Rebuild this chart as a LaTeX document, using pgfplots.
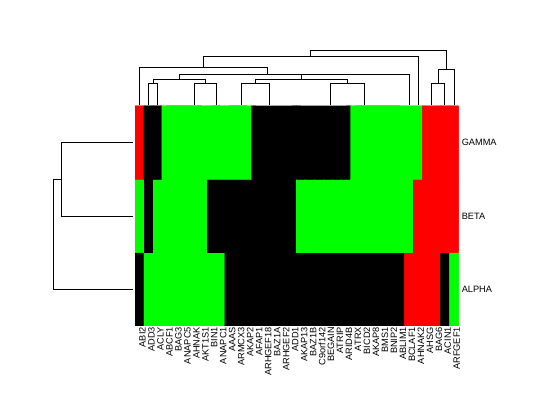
\documentclass[border=0pt]{standalone}
\usepackage{pgfplots}
\usepackage{pgfplotstable}
\pgfplotsset{compat=1.18}
\usepackage{fontspec}
\setmainfont{Liberation Sans}
\pgfplotstableread[row sep=\\]{
x y c\\
0 0 0\\ 1 0 -1\\ 2 0 -1\\ 3 0 -1\\ 4 0 -1\\ 5 0 -1\\ 6 0 -1\\ 7 0 -1\\ 8 0 -1\\ 9 0 -1\\ 10 0 0\\ 11 0 0\\
12 0 0\\ 13 0 0\\ 14 0 0\\ 15 0 0\\ 16 0 0\\ 17 0 0\\ 18 0 0\\ 19 0 0\\ 20 0 0\\ 21 0 0\\ 22 0 0\\ 23 0 0\\
24 0 0\\ 25 0 0\\ 26 0 0\\ 27 0 0\\ 28 0 0\\ 29 0 0\\ 30 0 1\\ 31 0 1\\ 32 0 1\\ 33 0 1\\ 34 0 0\\ 35 0 -1\\
0 1 -1\\ 1 1 0\\ 2 1 -1\\ 3 1 -1\\ 4 1 -1\\ 5 1 -1\\ 6 1 -1\\ 7 1 -1\\ 8 1 0\\ 9 1 0\\ 10 1 0\\ 11 1 0\\
12 1 0\\ 13 1 0\\ 14 1 0\\ 15 1 0\\ 16 1 0\\ 17 1 0\\ 18 1 -1\\ 19 1 -1\\ 20 1 -1\\ 21 1 -1\\ 22 1 -1\\ 23 1 -1\\
24 1 -1\\ 25 1 -1\\ 26 1 -1\\ 27 1 -1\\ 28 1 -1\\ 29 1 -1\\ 30 1 -1\\ 31 1 1\\ 32 1 1\\ 33 1 1\\ 34 1 1\\ 35 1 1\\
0 2 1\\ 1 2 0\\ 2 2 0\\ 3 2 -1\\ 4 2 -1\\ 5 2 -1\\ 6 2 -1\\ 7 2 -1\\ 8 2 -1\\ 9 2 -1\\ 10 2 -1\\ 11 2 -1\\
12 2 -1\\ 13 2 0\\ 14 2 0\\ 15 2 0\\ 16 2 0\\ 17 2 0\\ 18 2 0\\ 19 2 0\\ 20 2 0\\ 21 2 0\\ 22 2 0\\ 23 2 0\\
24 2 -1\\ 25 2 -1\\ 26 2 -1\\ 27 2 -1\\ 28 2 -1\\ 29 2 -1\\ 30 2 -1\\ 31 2 -1\\ 32 2 1\\ 33 2 1\\ 34 2 1\\ 35 2 1\\
}\heat
\begin{document}
\begin{tikzpicture}
\useasboundingbox (0,0) rectangle (560pt,420pt);
% heatmap
\begin{axis}[
  at={(135pt,94pt)}, anchor=south west,
  scale only axis, width=323.3pt, height=220pt,
  xmin=-0.5, xmax=35.5, ymin=-0.5, ymax=2.5,
  y dir=normal,
  enlargelimits=false,
  axis line style={draw=none}, tick style={draw=none},
  colormap={rgk}{rgb255=(0,255,0) rgb255=(0,0,0) rgb255=(255,0,0)},
  point meta min=-1, point meta max=1,
  xtick={0,...,35},
  xticklabels={ABI2,ADD3,ACLY,ABCF1,BAG3,ANAPC5,AHNAK,AKT1S1,BIN1,ANAPC1,AAAS,ARMCX3,AKAP2,AFAP1,ARHGEF18,BAZ1A,ARHGEF2,ADD1,AKAP13,BAZ1B,C9orf142,BEGAIN,ATRIP,ARID4B,ATRX,BICD2,AKAP8,BMS1,BNIP2,ABLIM1,BCLAF1,AHNAK2,AHSG,BAG6,ACIN1,ARFGEF1},
  xticklabel style={rotate=90, anchor=east, font=\fontsize{9.2}{10}\selectfont, inner sep=1pt, yshift=-3pt},
  ytick={0,1,2}, yticklabels={ALPHA,BETA,GAMMA},
  yticklabel pos=right,
  yticklabel style={font=\fontsize{9.2}{10}\selectfont},
]
\addplot[matrix plot*, mesh/cols=36, mesh/rows=3, point meta=explicit] table[meta=c] {\heat};
\addplot[matrix plot*, mesh/cols=36, mesh/rows=3, point meta=explicit] table[meta=c] {\heat};
\addplot[matrix plot*, mesh/cols=36, mesh/rows=3, point meta=explicit] table[meta=c] {\heat};
\end{axis}
% top dendrogram
\begin{axis}[
  at={(135pt,315pt)}, anchor=south west,
  scale only axis, width=323.3pt, height=55pt,
  xmin=-0.5, xmax=35.5, ymin=0, ymax=55,
  hide axis, clip=false,
  cycle list={{black, solid, no marks, line width=0.8pt}},
]
% zero-height links
\addplot[gray!70, no marks, line width=0.8pt] coordinates {(3,0) (7,0)};
\addplot[gray!70, no marks, line width=0.8pt] coordinates {(8,0) (9,0)};
\addplot[gray!70, no marks, line width=0.8pt] coordinates {(10,0) (12,0)};
\addplot[gray!70, no marks, line width=0.8pt] coordinates {(13,0) (17,0)};
\addplot[gray!70, no marks, line width=0.8pt] coordinates {(18,0) (23,0)};
\addplot[gray!70, no marks, line width=0.8pt] coordinates {(24,0) (29,0)};
\addplot[gray!70, no marks, line width=0.8pt] coordinates {(32,0) (33,0)};
% links
\addplot coordinates {(1,0) (1,21.7) (2,21.7) (2,0)};
\addplot coordinates {(6.06,0) (6.06,21.7) (8.5,21.7) (8.5,0)};
\addplot coordinates {(11.38,0) (11.38,21.7) (14.46,21.7) (14.46,0)};
\addplot coordinates {(21.29,0) (21.29,21.7) (25.0,21.7) (25.0,0)};
\addplot coordinates {(32.5,0) (32.5,21.7) (34,21.7) (34,0)};
\addplot coordinates {(1.5,21.7) (1.5,25.7) (7.28,25.7) (7.28,21.7)};
\addplot coordinates {(12.92,21.7) (12.92,25.7) (23.15,25.7) (23.15,21.7)};
\addplot coordinates {(18.03,25.7) (18.03,30.3) (30,30.3) (30,0)};
\addplot coordinates {(4.39,25.7) (4.39,31) (24.02,31) (24.02,30.3)};
\addplot coordinates {(0,0) (0,37.7) (14.2,37.7) (14.2,31)};
\addplot coordinates {(7.1,37.7) (7.1,49) (31,49) (31,0)};
\addplot coordinates {(33.25,21.7) (33.25,35.7) (35,35.7) (35,0)};
\addplot coordinates {(19.05,49) (19.05,54.3) (34.125,54.3) (34.125,35.7)};
\end{axis}
% left dendrogram
\begin{axis}[
  at={(132.7pt,94pt)}, anchor=south east,
  scale only axis, width=80pt, height=220pt,
  xmin=0, xmax=80, x dir=reverse,
  ymin=-0.5, ymax=2.5,
  hide axis, clip=false,
]
\addplot[black, no marks, line width=0.8pt] coordinates {(0,2) (71.4,2) (71.4,1) (0,1)};
\addplot[black, no marks, line width=0.8pt] coordinates {(71.4,1.5) (79.4,1.5) (79.4,0) (0,0)};
\end{axis}
\end{tikzpicture}
\end{document}
